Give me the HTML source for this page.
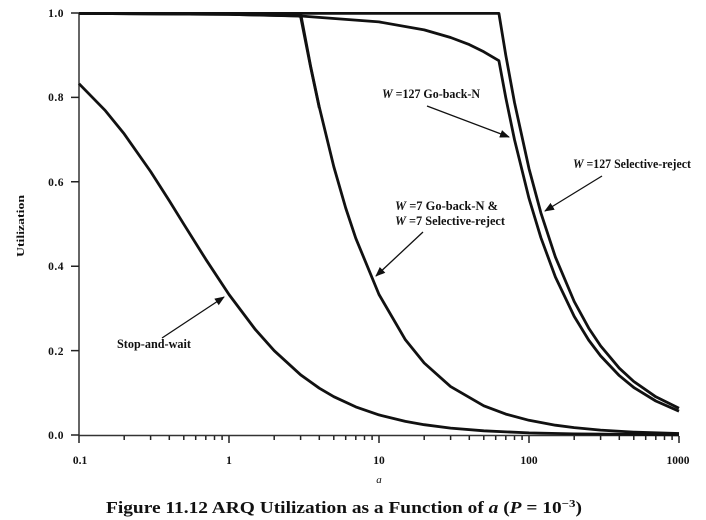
<!DOCTYPE html>
<html><head><meta charset="utf-8"><style>
html,body{margin:0;padding:0;background:#fff;}
svg{display:block;}
text{font-family:"Liberation Serif",serif;fill:#111;}
</style></head><body>
<svg width="706" height="520" viewBox="0 0 706 520" xmlns="http://www.w3.org/2000/svg">
<defs><marker id="ar" markerWidth="10" markerHeight="8" refX="9" refY="4" orient="auto" markerUnits="userSpaceOnUse"><path d="M0,0 L10,4 L0,8 z" fill="#111"/></marker></defs>
<g stroke="#333" stroke-width="1.5" fill="none">
<line x1="79" y1="13" x2="79" y2="436"/>
<line x1="79" y1="435.5" x2="679" y2="435.5"/>
</g>
<g stroke="#222" stroke-width="1.5" fill="none">
<path d="M79,436V443 M124.2,436V440 M150.6,436V440 M169.3,436V440 M183.8,436V440 M195.7,436V440 M205.8,436V440 M214.5,436V440 M222.1,436V440
M229,436V443 M274.2,436V440 M300.6,436V440 M319.3,436V440 M333.8,436V440 M345.7,436V440 M355.8,436V440 M364.5,436V440 M372.1,436V440
M379,436V443 M424.2,436V440 M450.6,436V440 M469.3,436V440 M483.8,436V440 M495.7,436V440 M505.8,436V440 M514.5,436V440 M522.1,436V440
M529,436V443 M574.2,436V440 M600.6,436V440 M619.3,436V440 M633.8,436V440 M645.7,436V440 M655.8,436V440 M664.5,436V440 M672.1,436V440
M679,436V443
M71,13H79 M71,97.4H79 M71,181.8H79 M71,266.2H79 M71,350.6H79 M71,435H79"/>
</g>
<g font-size="11.5" font-weight="bold" text-anchor="end" letter-spacing="0.5">
<text x="64" y="17">1.0</text>
<text x="64" y="101">0.8</text>
<text x="64" y="186">0.6</text>
<text x="64" y="270">0.4</text>
<text x="64" y="355">0.2</text>
<text x="64" y="439">0.0</text>
</g>
<g font-size="11.5" font-weight="bold" text-anchor="middle">
<text x="80" y="464">0.1</text>
<text x="229" y="464">1</text>
<text x="379" y="464">10</text>
<text x="529" y="464">100</text>
<text x="678" y="464">1000</text>
</g>
<text x="379" y="483" font-size="11" font-style="italic" text-anchor="middle">a</text>
<text transform="translate(24,226) rotate(-90)" font-size="11" font-weight="bold" font-family="Liberation Sans,sans-serif" text-anchor="middle" textLength="62" lengthAdjust="spacingAndGlyphs">Utilization</text>
<g fill="none" stroke="#111" stroke-width="2.8" stroke-linejoin="round">
<polyline points="79,83.7 105.4,110.7 124.2,133.9 150.6,171.5 169.3,200.8 183.8,224.2 205.8,259.3 229,294.5 255.4,329.6 274.2,350.7 300.6,374.8 319.3,388.2 333.8,396.7 355.8,406.9 379,414.9 405.4,421.4 424.2,424.7 450.6,428.1 483.8,430.8 529,432.9 574.2,433.9 679,434.8"/>
<polyline points="79,13.4 300.6,13.4 310.6,66.1 319.3,107.1 333.8,166.7 345.7,208 355.8,238.3 379,294.5 405.4,339.8 424.2,363 450.6,386.6 483.8,405.8 505.8,414.1 529,420.3 555.4,425.2 574.2,427.6 600.6,430.1 633.8,432.1 679,433.5"/>
<polyline points="79,13.4 229,14.3 298,16 300.6,16.5 310.6,67 319.3,108"/>
<polyline points="79,13.4 498.9,13.4 505.8,55.3 514.5,102.5 529,168.6 540.9,212.9 555.4,257.1 574.2,301.5 588.7,328.1 600.6,345.9 619.3,368.2 633.8,381.5 655.8,396.8 679,408.2"/>
<polyline points="79,13.4 229,14.3 300.6,16 379,21.9 424.2,29.9 450.6,37.5 469.3,44.6 483.8,51.8 498.9,60.7 505.8,97.8 514.5,139.7 529,198.4 540.9,237.7 555.4,277 574.2,316.4 588.7,340.1 600.6,355.9 619.3,375.6 633.8,387.5 655.8,401 679,411.2"/>
</g>
<g font-size="12.5" font-weight="bold">
<text x="382" y="98" textLength="98" lengthAdjust="spacingAndGlyphs"><tspan font-style="italic">W</tspan> =127 Go-back-N</text>
<text x="573" y="168" textLength="118" lengthAdjust="spacingAndGlyphs"><tspan font-style="italic">W</tspan> =127 Selective-reject</text>
<text x="395" y="210" textLength="103" lengthAdjust="spacingAndGlyphs"><tspan font-style="italic">W</tspan> =7 Go-back-N &amp;</text>
<text x="395" y="225" textLength="110" lengthAdjust="spacingAndGlyphs"><tspan font-style="italic">W</tspan> =7 Selective-reject</text>
<text x="117" y="348" textLength="74" lengthAdjust="spacingAndGlyphs">Stop-and-wait</text>
</g>
<g stroke="#111" stroke-width="1.3" marker-end="url(#ar)">
<line x1="427" y1="106" x2="509" y2="137"/>
<line x1="602" y1="176" x2="545" y2="211"/>
<line x1="423" y1="232" x2="376" y2="276"/>
<line x1="162" y1="338" x2="224" y2="297"/>
</g>
<text x="344" y="513" font-size="16.5" font-weight="bold" text-anchor="middle" textLength="476" lengthAdjust="spacingAndGlyphs">Figure 11.12  ARQ Utilization as a Function of <tspan font-style="italic">a</tspan> (<tspan font-style="italic">P</tspan> = 10<tspan font-size="11" dy="-6">−3</tspan><tspan dy="6">)</tspan></text>
</svg>
</body></html>
